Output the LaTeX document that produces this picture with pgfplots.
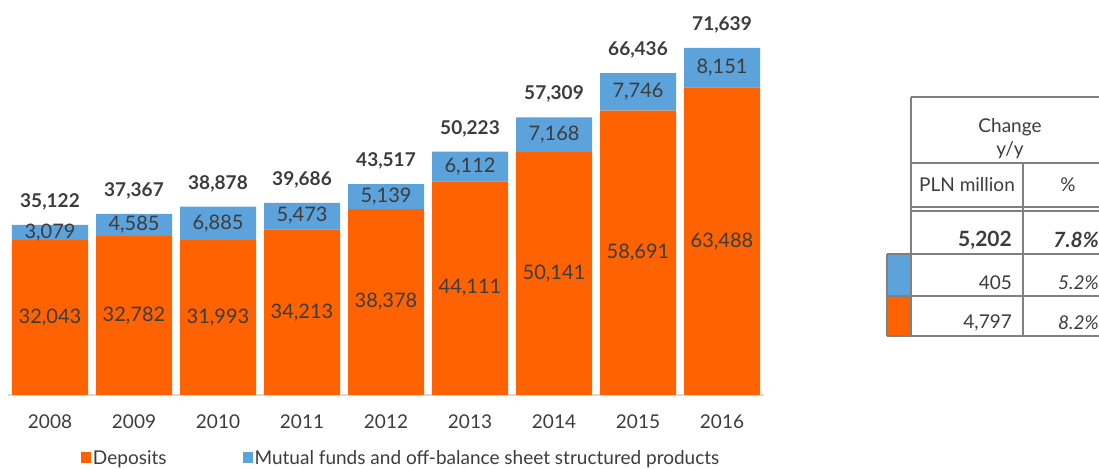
\documentclass[border=0pt]{standalone}
\usepackage{pgfplots}
\pgfplotsset{compat=1.18}
\usepackage{pgfplotstable}
\usepackage{fontspec}
\setmainfont{Lato}
\definecolor{ingorange}{HTML}{FF6200}
\definecolor{ingblue}{HTML}{5DA3DB}
\definecolor{txt}{HTML}{3C3C3C}
\definecolor{tgray}{HTML}{808080}
\definecolor{axgray}{HTML}{D9D9D9}

\pgfplotstableread{
x dep mut tot
0 32043 3079 35122
1 32782 4585 37367
2 31993 6885 38878
3 34213 5473 39686
4 38378 5139 43517
5 44111 6112 50223
6 50141 7168 57309
7 58691 7746 66436
8 63488 8151 71639
}\data

\begin{document}
\begin{tikzpicture}[x=1pt,y=1pt]
\path[use as bounding box] (0,0) rectangle (1099,468);
\begin{axis}[
  at={(8pt,73pt)}, anchor=south west, scale only axis,
  width=756pt, height=395pt,
  xmin=-0.5, xmax=8.5, ymin=0, ymax=81549,
  ybar stacked, bar width=76pt,
  axis x line*=bottom, axis y line=none,
  x axis line style={draw=axgray, line width=2pt, -},
  xtick=data, xticklabels={2008,2009,2010,2011,2012,2013,2014,2015,2016},
  xtick style={draw=none},
  xticklabel style={font=\fontsize{19}{22}\selectfont, text=txt, yshift=-16pt},
  legend columns=2,
  legend style={at={(0.5200,-0.1595)}, anchor=center, draw=none, fill=none,
    font=\fontsize{19}{22}\selectfont, text=txt,
    /tikz/every even column/.append style={column sep=74pt},
    nodes={inner sep=2pt}},
  legend image code/.code={\path[#1] (0pt,-5pt) rectangle (10pt,6pt);},
]
\addplot[fill=ingorange, draw=none] table[x=x, y=dep] {\data};
\addlegendentry{Deposits}
\addplot[fill=ingblue, draw=none] table[x=x, y=mut] {\data};
\addlegendentry{Mutual funds and off-balance sheet structured products}
\end{axis}
\begin{axis}[
  at={(8pt,73pt)}, anchor=south west, scale only axis,
  width=756pt, height=395pt,
  xmin=-0.5, xmax=8.5, ymin=0, ymax=81549,
  hide axis, clip=false,
  /pgf/number format/fixed, /pgf/number format/precision=0,
  /pgf/number format/1000 sep={,}, /pgf/number format/assume math mode=true,
]
\addplot[draw=none, mark=none, nodes near coords, point meta=explicit,
  every node near coord/.append style={anchor=center, text=txt, font=\fontsize{20}{22}\selectfont}]
  table[x=x, y expr=\thisrow{dep}/2, meta=dep] {\data};
\addplot[draw=none, mark=none, nodes near coords, point meta=explicit,
  every node near coord/.append style={anchor=center, text=txt, font=\fontsize{20}{22}\selectfont}]
  table[x=x, y expr=\thisrow{dep}+\thisrow{mut}/2, meta=mut] {\data};
\addplot[draw=none, mark=none, nodes near coords, point meta=explicit,
  every node near coord/.append style={anchor=center, yshift=23pt, text=txt, font=\fontsize{19}{21}\selectfont\bfseries}]
  table[x=x, y=tot, meta=tot] {\data};
\end{axis}
% table
\begin{scope}[tgray, line width=2pt]
\fill[ingblue] (887,172) rectangle (911,214);
\fill[ingorange] (887,132) rectangle (911,172);
\draw (911,371) -- (1110,371);
\draw (911,371) -- (911,132);
\draw (911,305) -- (1110,305);
\draw[line width=1.5pt] (911,261) -- (1110,261);
\draw[line width=1.5pt] (911,257) -- (1110,257);
\draw (887,214) -- (1110,214);
\draw (887,172) -- (1110,172);
\draw (887,132) -- (1110,132);
\draw (1023,305) -- (1023,132);
\draw (887,214) -- (887,132);
\end{scope}
\begin{scope}[every node/.style={text=txt, font=\fontsize{19}{22}\selectfont, inner sep=0pt}]
\node at (1010,341) {Change};
\node at (1010,318) {y/y};
\node at (967,283) {PLN million};
\node at (1068,283) {\%};
\node[anchor=east, font=\fontsize{21}{24}\selectfont\bfseries] at (1012,228) {5,202};
\node[anchor=east, font=\fontsize{21}{24}\selectfont\bfseries\itshape] at (1099,228) {7.8\%};
\node[anchor=east] at (1012,185) {405};
\node[anchor=east, font=\fontsize{19}{22}\selectfont\itshape] at (1099,185) {5.2\%};
\node[anchor=east] at (1012,145) {4,797};
\node[anchor=east, font=\fontsize{19}{22}\selectfont\itshape] at (1099,145) {8.2\%};
\end{scope}
\end{tikzpicture}
\end{document}
